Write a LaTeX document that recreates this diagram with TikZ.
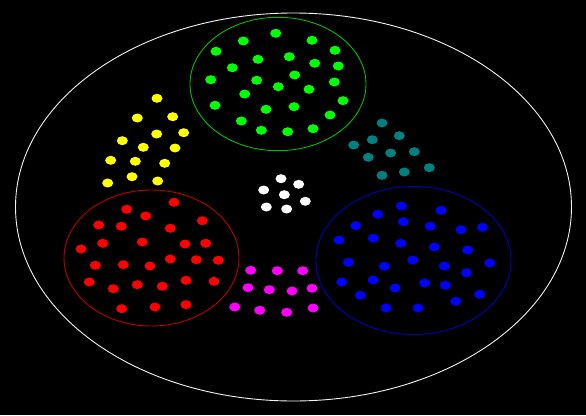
\documentclass[tikz,border=0pt]{standalone}
\usepackage{xcolor}
\usepackage{tikz}

\definecolor{dotgreen}{RGB}{0,255,0}
\definecolor{dotred}{RGB}{255,0,0}
\definecolor{dotblue}{RGB}{0,0,255}
\definecolor{dotyellow}{RGB}{255,255,0}
\definecolor{dotteal}{RGB}{0,128,128}
\definecolor{dotmagenta}{RGB}{255,0,255}
\definecolor{ringgreen}{RGB}{0,190,0}
\definecolor{ringred}{RGB}{190,0,0}
\definecolor{ringblue}{RGB}{0,0,190}

\begin{document}
\begin{tikzpicture}[
  x=1pt, y=-1pt,
  dot/.style={fill=#1},
  ring/.style={draw=#1, line width=0.9pt},
]

% ---------- Background ----------
\fill[black] (0,0) rectangle (586,415);
\useasboundingbox (0,0) rectangle (586,415);

% ---------- Outer boundary ----------
\draw[ring=white!90!gray] (293.5,207) ellipse (278 and 194);

% ---------- Cluster rings ----------
\draw[ring=ringgreen] (278,84) ellipse (88 and 66.7);
\draw[ring=ringred]   (151.5,258) ellipse (87.5 and 68);
\draw[ring=ringblue]  (413.5,260.5) ellipse (97.5 and 74);

% ---------- Green cluster ----------
\foreach \x/\y in {275.7/33.3, 243.3/41, 312/40.3, 216/51.3, 335/50.3, 258/59.3,
                   289.3/56.7, 314.7/63.3, 232.3/67.7, 338.3/66, 210.7/79.7,
                   256.7/80.3, 294.7/75, 278.3/86.7, 334.3/82, 309/89.3, 244.7/94,
                   343/100.7, 215/105.3, 266/109.3, 294/106.7, 330/115, 241.3/121,
                   261.3/130.3, 287.7/131.7, 313/128.7}
  \fill[dot=dotgreen] (\x,\y) ellipse (5.5 and 4.5);

% ---------- Red cluster ----------
\foreach \x/\y in {174/202.3, 126.7/209.3, 145.7/216, 98.7/225, 121.3/226.3,
                   202.3/220.7, 170.3/228.3, 102.7/243.3, 142.3/242, 185/244,
                   205.7/243.3, 81/249, 95.3/265.3, 123.3/264.7, 150/266,
                   170.3/259, 196.3/259.7, 218.3/260.3, 89.3/282, 113.3/288.7,
                   137.3/284.7, 162.3/286.3, 186/280.3, 214/281.3, 121.7/308.7,
                   155/307, 186/304.7}
  \fill[dot=dotred] (\x,\y) ellipse (5.5 and 4.5);

% ---------- Blue cluster ----------
\foreach \x/\y in {401.3/206, 377.7/214.3, 441/210.3, 355.7/225.7, 403.3/221.7,
                   430.3/226.3, 461/229.7, 482.3/227.3, 339/240, 373.3/238.3,
                   400.7/243.3, 434.3/247, 467.7/250, 348.3/262.3, 384.3/266.3,
                   412.7/260, 444.3/266, 489.7/263, 466.3/272.7, 341.7/282,
                   373/280, 395/288, 424.7/283, 445.3/285.3, 360.3/295.3,
                   455.7/301.3, 479.7/294.3, 386/308, 418/308}
  \fill[dot=dotblue] (\x,\y) ellipse (5.5 and 4.5);

% ---------- Yellow group ----------
\foreach \x/\y in {157/98.3, 137.3/118, 172.7/116.7, 156.7/134, 183.7/132.7,
                   122.3/140.7, 143.3/147.3, 175/148, 110.7/160.3, 135.3/161.3,
                   164.7/163.3, 132/176.7, 107.7/183, 157.7/181}
  \fill[dot=dotyellow] (\x,\y) ellipse (5.5 and 4.5);

% ---------- Teal group ----------
\foreach \x/\y in {382/123, 399.3/135.7, 372.3/139.7, 353.7/145, 368.3/157.3,
                   390.7/153, 414.3/151.7, 429.3/167.7, 382/175.3, 404.3/172}
  \fill[dot=dotteal] (\x,\y) ellipse (5.5 and 4.5);

% ---------- White group ----------
\foreach \x/\y in {281/178.7, 263.7/190, 298.7/184.3, 284.3/194.7, 305.3/201.3,
                   266.3/207, 286.7/209}
  \fill[dot=white] (\x,\y) ellipse (5.5 and 4.5);

% ---------- Magenta group ----------
\foreach \x/\y in {250.7/270.3, 277.3/270.7, 302.7/270.7, 248/287.7, 269.3/289.7,
                   292/291, 312/288.3, 234.7/307, 259.7/310.3, 286.7/312.3,
                   313/308}
  \fill[dot=dotmagenta] (\x,\y) ellipse (5.5 and 4.5);

\end{tikzpicture}
\end{document}
